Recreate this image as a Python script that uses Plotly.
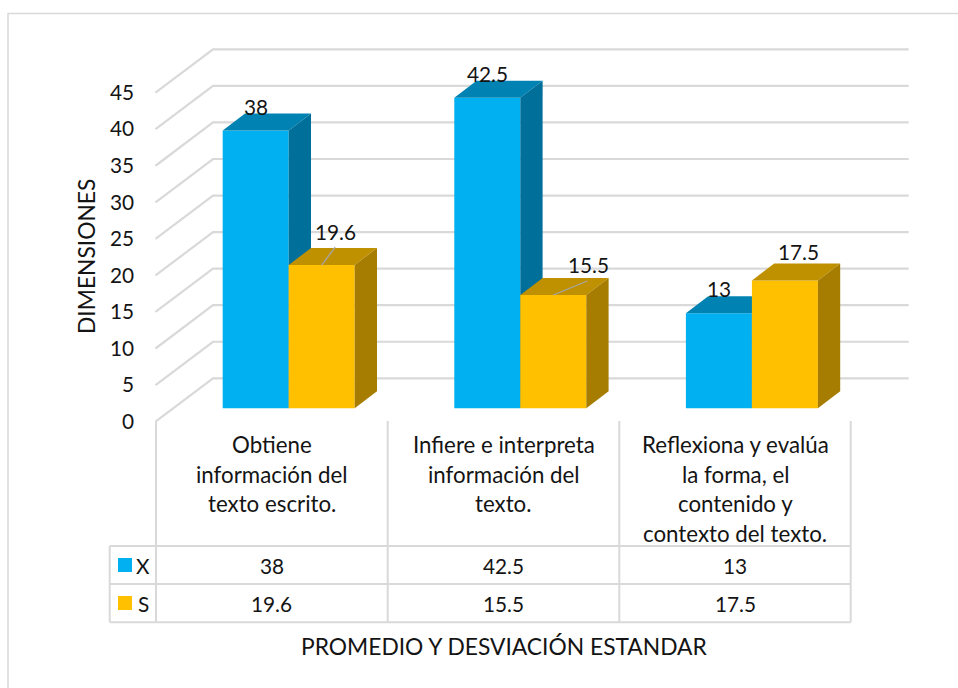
import plotly.graph_objects as go

# ---- data ----
categories = [
    ["Obtiene", "información del", "texto escrito."],
    ["Infiere e interpreta", "información del", "texto."],
    ["Reflexiona y evalúa", "la forma, el", "contenido y", "contexto del texto."],
]
series_names = ["X", "S"]
x_values = [38, 42.5, 13]
s_values = [19.6, 15.5, 17.5]
y_ticks = [0, 5, 10, 15, 20, 25, 30, 35, 40, 45]
y_title = "DIMENSIONES"
x_title = "PROMEDIO Y DESVIACIÓN ESTANDAR"

# ---- layout constants (pixels of the 958x688 picture) ----
W, H = 958, 688
PX_PER_CAT = 231.6
PX_PER_UNIT = 7.31
CAT0_PX = 271.9          # centre of first category on front plane
ZERO_PX = 421.6          # value 0 on the front of the floor
FONT = "Lato"
FS_TEXT = 22.3
FS_NUM = 20.8
FS_TITLE = 22.8
INK = "#141414"
GRID = "#D9D9D9"
BLUE, BLUE_TOP, BLUE_SIDE = "#00B0F0", "#0083B3", "#006F9A"
GOLD, GOLD_TOP, GOLD_SIDE = "#FFC000", "#BF9000", "#A67D00"


def dx(px):
    return px / PX_PER_CAT


def dy(px):
    return px / PX_PER_UNIT


def X(px):
    return (px - CAT0_PX) / PX_PER_CAT


def Y(px):
    return (ZERO_PX - px) / PX_PER_UNIT


fig = go.Figure()

# back wall + side wall gridlines
gx, gy = [], []
WALL_L, WALL_B, WALL_R = 155.5, 213.0, 908.7
WALL_RISE = 43.3
for t in y_ticks:
    gx += [X(WALL_L), X(WALL_B), X(WALL_R), None]
    gy += [t, t + dy(WALL_RISE), t + dy(WALL_RISE), None]
fig.add_trace(go.Scatter(x=gx, y=gy, mode="lines", line=dict(color=GRID, width=2.2),
                         hoverinfo="skip", showlegend=False, zorder=0))

# bars in pseudo 3-D
BAR_W = dx(66.0)
BAR_SHIFT = dx(16.8)
BASE = dy(13.3)
DEPTH_X = dx(22.3)
DEPTH_Y = dy(17.0)


def add_series(name, values, side_sign, front, top, side, z):
    xs = [i + BAR_SHIFT + side_sign * BAR_W / 2 for i in range(len(values))]
    fig.add_trace(go.Bar(x=xs, y=values, base=BASE, width=BAR_W, name=name,
                         marker=dict(color=front, line=dict(width=0)),
                         showlegend=False, zorder=z))
    for xc, v in zip(xs, values):
        l, r = xc - BAR_W / 2, xc + BAR_W / 2
        t = BASE + v
        fig.add_trace(go.Scatter(
            x=[l, r, r + DEPTH_X, l + DEPTH_X, l], y=[t, t, t + DEPTH_Y, t + DEPTH_Y, t],
            fill="toself", fillcolor=top, mode="lines", line=dict(width=0),
            hoverinfo="skip", showlegend=False, zorder=z))
        fig.add_trace(go.Scatter(
            x=[r, r + DEPTH_X, r + DEPTH_X, r, r],
            y=[BASE, BASE + DEPTH_Y, t + DEPTH_Y, t, BASE],
            fill="toself", fillcolor=side, mode="lines", line=dict(width=0),
            hoverinfo="skip", showlegend=False, zorder=z))
    return xs


xs_x = add_series(series_names[0], x_values, -1, BLUE, BLUE_TOP, BLUE_SIDE, 1)
xs_s = add_series(series_names[1], s_values, 1, GOLD, GOLD_TOP, GOLD_SIDE, 2)

# table grid
tx, ty = [], []
col_edges = [156.0, 387.7, 619.3, 850.7]
for c in col_edges:
    tx += [X(c), X(c), None]
    ty += [Y(421.0), Y(622.3), None]
tx += [X(109.7), X(109.7), None]
ty += [Y(546.0), Y(622.3), None]
for r in [546.0, 584.0, 622.3]:
    tx += [X(109.7), X(850.7), None]
    ty += [Y(r), Y(r), None]
fig.add_trace(go.Scatter(x=tx, y=ty, mode="lines", line=dict(color=GRID, width=2),
                         hoverinfo="skip", showlegend=False, zorder=3))

# outer chart border (top and left only are in frame)
fig.add_trace(go.Scatter(x=[X(8), X(8), X(W)], y=[Y(H), Y(13.5), Y(13.5)], mode="lines",
                         line=dict(color=GRID, width=1.5), hoverinfo="skip",
                         showlegend=False, zorder=3))

# leader lines for the moved data labels
lead_x = [xs_s[0], xs_s[0] + dx(13.5), None, xs_s[1], xs_s[1] + dx(34), None]
lead_y = [BASE + s_values[0], BASE + s_values[0] + dy(18), None,
          BASE + s_values[1], BASE + s_values[1] + dy(14), None]
fig.add_trace(go.Scatter(x=lead_x, y=lead_y, mode="lines", line=dict(color="#A6A6A6", width=1.3),
                         hoverinfo="skip", showlegend=False, zorder=3))

# legend swatches inside the table
for color, top_px in zip([BLUE, GOLD], [558, 596]):
    fig.add_trace(go.Scatter(
        x=[X(118), X(132), X(132), X(118), X(118)],
        y=[Y(top_px), Y(top_px), Y(top_px + 14), Y(top_px + 14), Y(top_px)],
        fill="toself", fillcolor=color, mode="lines", line=dict(width=0),
        hoverinfo="skip", showlegend=False, zorder=3))


def label(x_data, y_data, text, size, angle=0):
    fig.add_annotation(x=x_data, y=y_data, text=text, showarrow=False,
                       xref="x", yref="y", xanchor="center", yanchor="middle", textangle=angle,
                       font=dict(family=FONT, size=size, color=INK))


# data labels
label_offsets_x = [(0.5, -24.5), (0.5, -24.5), (0.5, -25)]
label_offsets_s = [(13.5, -34), (35.5, -31), (13.5, -29)]
for xs, vals, offs in [(xs_x, x_values, label_offsets_x), (xs_s, s_values, label_offsets_s)]:
    for xc, v, (ox, oy) in zip(xs, vals, offs):
        label(xc + dx(ox), BASE + v - dy(oy), str(v), FS_NUM)

# category labels, one annotation per line to keep the wide line spacing
for i, lines in enumerate(categories):
    for j, line in enumerate(lines):
        label(i, Y(444.5 + 29.5 * j), line, FS_TEXT)

# table values
for row_px, vals in zip([565, 603], [x_values, s_values]):
    for i, v in enumerate(vals):
        label(i, Y(row_px), str(v), FS_NUM)
for row_px, name in zip([565, 603], series_names):
    label(X(143), Y(row_px), name, FS_NUM)

# axis titles
label(X(85.5), Y(256.5), y_title, FS_TITLE, angle=-90)
label(X(504), Y(645.5), x_title, FS_TITLE)

fig.update_layout(
    width=W, height=H, margin=dict(l=0, r=0, t=0, b=0, pad=0),
    paper_bgcolor="white", plot_bgcolor="white", showlegend=False, barmode="overlay",
    xaxis=dict(range=[X(0), X(W)], visible=False, fixedrange=True),
    yaxis=dict(range=[Y(H), Y(0)], tickvals=y_ticks, ticktext=[str(t) for t in y_ticks],
               showgrid=False, zeroline=False, showline=False, ticks="",
               anchor="free", position=134 / W, fixedrange=True,
               tickfont=dict(family=FONT, size=FS_NUM, color=INK)),
)

fig.write_html("out.html", post_script="document.body.style.margin='0';",
               config={"displayModeBar": False})
